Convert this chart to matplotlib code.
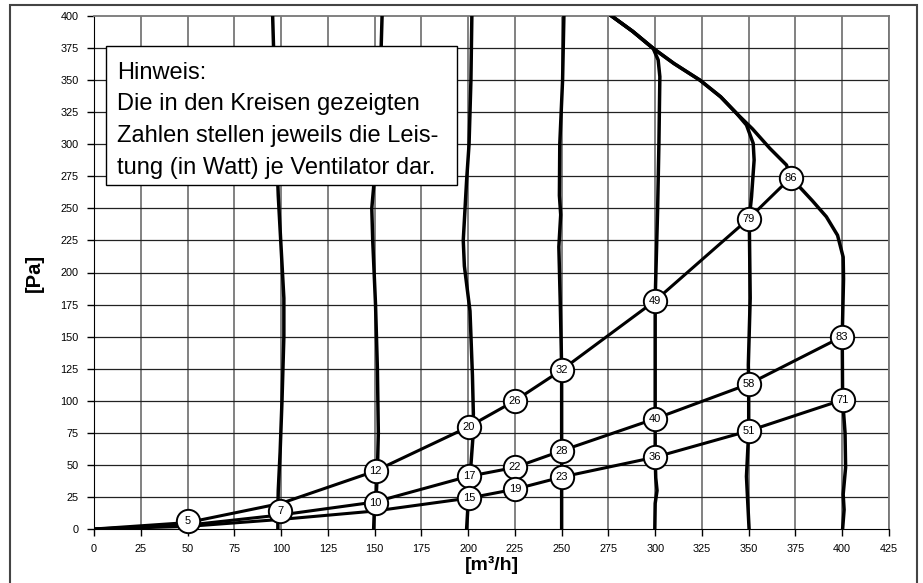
import matplotlib.pyplot as plt
from matplotlib.patches import Rectangle

plt.rcParams['font.family'] = ['Liberation Sans', 'DejaVu Sans']

# Anlagenkennlinien (Volumenstrom m3/h, Druck Pa)
sys_a_x = [0, 50, 100, 150, 200, 225, 250, 300, 350, 372.5]
sys_a_y = [0, 5, 20, 45, 79.5, 100, 124, 178, 242, 274]
sys_b_x = [0, 50, 100, 150, 200, 225, 250, 300, 350, 400]
sys_b_y = [0, 3, 11, 21, 41, 48, 61, 86, 113, 150]
sys_c_x = [0, 50, 100, 150, 200, 225, 250, 300, 350, 400]
sys_c_y = [0, 2, 7.5, 14, 24, 31, 40.5, 56, 76.5, 100.6]

# Ventilatorkennlinien
fan100_x = [95.5, 96.5, 97.5, 98.5, 100, 101.5, 101.5, 100.5, 99.5, 98.5, 98.3, 98.3]
fan100_y = [400, 350, 300, 260, 220, 180, 150, 100, 60, 30, 15, 0]
fan150_x = [154, 153, 152, 150, 148.5, 149, 150.5, 151.5, 152, 151.5, 151, 150, 149.5]
fan150_y = [400, 350, 310, 275, 250, 225, 175, 125, 75, 45, 30, 20, 0]
fan200_x = [202, 201.5, 200.5, 199.2, 197.4, 198, 201, 202.3, 202.8, 202.5, 201.5, 200.5, 200, 199.2]
fan200_y = [400, 350, 300, 272, 225, 205, 170, 120, 90, 70, 50, 35, 20, 0]
fan250_x = [251.2, 250.5, 249, 248.8, 249.5, 248.5, 249.2, 249.8, 250, 250, 250, 250]
fan250_y = [400, 350, 300, 260, 245, 220, 180, 140, 124, 60, 40, 0]
fan300_x = [276.7, 288, 298.9, 301.6, 302.5, 302, 301.3, 300.2, 300, 300, 300, 300.3, 301, 300, 299.8]
fan300_y = [400, 388, 374.8, 365.7, 352.7, 300.7, 248.7, 190, 178, 86, 56, 40, 30, 20, 0]
fan350_x = [276.7, 288, 298.9, 310, 323.9, 335, 343.5, 348.8, 352.4, 352.9, 351.5, 350.3,
            350.8, 349.8, 350, 350, 348.8, 350.2]
fan350_y = [400, 388, 374.8, 363, 350, 337, 324.1, 315, 300.7, 287.7, 259, 242.2,
            180, 128, 113, 76, 41, 0]
fan400_x = [276.7, 288, 298.9, 310, 323.9, 335, 343.5, 352, 361.3, 370.2, 372.5, 377, 384,
            391.5, 397.5, 400.5, 400.7, 400.3, 400, 400.2, 401.5, 401.8, 400.5, 401, 400.2]
fan400_y = [400, 388, 374.8, 363, 350, 337, 324.1, 312, 296.8, 283.8, 274, 267, 256,
            243.5, 229, 212, 195, 170, 150, 101, 75, 48, 27, 15, 0]

# Leistung je Ventilator (Watt) an den Betriebspunkten
pt_x = [50, 99.5, 150.5, 150.5, 200.4, 200.4, 200.4, 225, 225, 225, 250, 250, 250,
        300, 300, 300, 350, 350, 350, 372.5, 400, 400.3]
pt_y = [6, 14, 45, 20.5, 79.5, 41.3, 24.2, 100, 48.3, 31.2, 124, 61, 40.5,
        178, 86, 56, 241.7, 113, 76.4, 274, 149.7, 100.6]
pt_lbl = ['5', '7', '12', '10', '20', '17', '15', '26', '22', '19', '32', '28', '23',
          '49', '40', '36', '79', '58', '51', '86', '83', '71']

fig = plt.figure(figsize=(9.23, 5.83), dpi=100)
ax = fig.add_axes([94/923, 54/583, 795/923, 513/583])

# Rahmen um das ganze Bild
fig.patches.append(Rectangle((10/923, -0.01), 907/923, 1 - 5/583 + 0.01, transform=fig.transFigure,
                             fill=False, edgecolor='#444444', linewidth=1.5))

ax.set_xlim(0, 425)
ax.set_ylim(0, 400)
ax.set_xticks(range(0, 426, 25))
ax.set_yticks(range(0, 401, 25))
ax.tick_params(labelsize=7.8, length=5, width=1, direction='out', pad=6)
for v in range(25, 426, 25):
    ax.axvline(v, color='#777777', lw=1.3, zorder=1)
for v in range(25, 400, 25):
    ax.axhline(v, color='#222222', lw=0.9, zorder=1)
ax.spines['top'].set_color('#777777')
ax.spines['right'].set_color('#777777')
ax.spines['top'].set_linewidth(1.3)
ax.spines['right'].set_linewidth(1.3)

for xs, ys in [(fan100_x, fan100_y), (fan150_x, fan150_y), (fan200_x, fan200_y),
               (fan250_x, fan250_y), (fan300_x, fan300_y), (fan350_x, fan350_y),
               (fan400_x, fan400_y)]:
    ax.plot(xs, ys, color='black', lw=2.5, zorder=3, solid_joinstyle='round')

for xs, ys in [(sys_a_x, sys_a_y), (sys_b_x, sys_b_y), (sys_c_x, sys_c_y)]:
    ax.plot(xs, ys, color='black', lw=2.2, zorder=3, solid_joinstyle='round')

ax.plot(pt_x, pt_y, 'o', ms=16.8, mfc='white', mec='black', mew=1.4, zorder=4, clip_on=False)
for x, y, s in zip(pt_x, pt_y, pt_lbl):
    ax.text(x, y, s, ha='center', va='center', fontsize=8, zorder=5)

# Hinweis-Kasten
ax.add_patch(Rectangle((0.0151, 0.6706), 0.4415, 0.2709, transform=ax.transAxes,
                       facecolor='white', edgecolor='black', lw=1, zorder=6))
ax.text(0.029, 0.911,
        'Hinweis:\nDie in den Kreisen gezeigten\nZahlen stellen jeweils die Leis-\ntung (in Watt) je Ventilator dar.',
        transform=ax.transAxes, ha='left', va='top', fontsize=17, linespacing=1.57, zorder=7)

ax.set_xlabel('[m³/h]', fontsize=14, fontweight='bold', labelpad=1)
ax.set_ylabel('[Pa]', fontsize=14.5, fontweight='bold', labelpad=12)

fig.savefig('out.png', dpi=100)
